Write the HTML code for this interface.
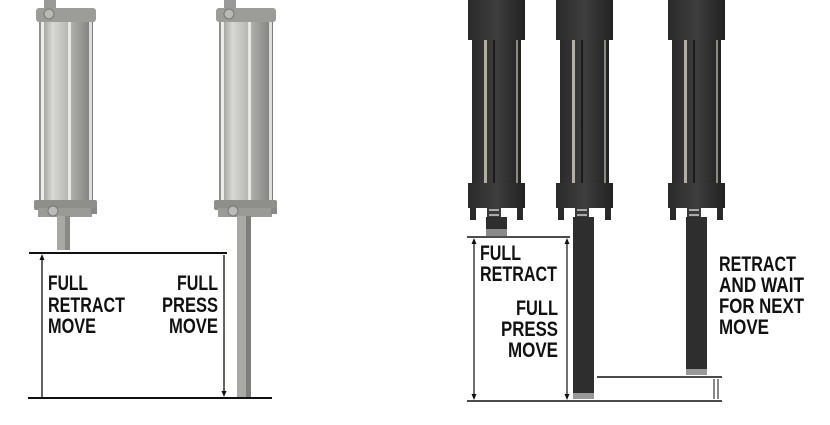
<!DOCTYPE html>
<html><head><meta charset="utf-8"><style>
html,body{margin:0;padding:0;background:#fff;width:830px;height:425px;overflow:hidden}
text{font-family:"Liberation Sans",sans-serif;font-weight:bold;font-size:21px;fill:#111}
</style></head><body>
<svg width="830" height="425" viewBox="0 0 830 425" xmlns="http://www.w3.org/2000/svg">
<defs>
<linearGradient id="sv" x1="0" x2="1" y1="0" y2="0">
<stop offset="0" stop-color="#8a8a86"/><stop offset="0.25" stop-color="#d8d8d4"/><stop offset="0.55" stop-color="#b4b4b0"/><stop offset="1" stop-color="#7c7c78"/>
</linearGradient>
<linearGradient id="dk" x1="0" x2="1" y1="0" y2="0">
<stop offset="0" stop-color="#2a2a2a"/><stop offset="0.5" stop-color="#3e3e3e"/><stop offset="1" stop-color="#222"/>
</linearGradient>
<g id="silver">
<rect x="44" y="0" width="12" height="14" fill="#9a9a96"/>
<rect x="36" y="8" width="60" height="14" rx="3" fill="#9c9c98"/>
<circle cx="49" cy="14" r="5" fill="#b8b8b4" stroke="#777"/>
<rect x="39" y="22" width="54" height="180" fill="url(#sv)"/>
<rect x="41" y="22" width="3" height="180" fill="#ececea"/>
<rect x="68" y="22" width="3" height="180" fill="#e8e8e4"/>
<rect x="89" y="22" width="3" height="180" fill="#ddd"/>
<rect x="34" y="200" width="63" height="10" rx="2" fill="#8e8e8a"/>
<rect x="38" y="208" width="54" height="9" fill="#9a9a96"/>
<circle cx="53" cy="211" r="5" fill="#bbb" stroke="#777"/>
<rect x="91" y="208" width="6" height="6" fill="#888"/>
</g>
<g id="dark">
<rect x="0" y="0" width="57" height="40" fill="url(#dk)"/>
<rect x="4" y="40" width="49" height="143" fill="url(#dk)"/>
<rect x="16" y="40" width="3" height="143" fill="#b5b09c"/>
<rect x="48" y="40" width="2" height="143" fill="#8d8a7c"/>
<rect x="25" y="40" width="2" height="143" fill="#1a1a1a"/>
<rect x="0" y="183" width="57" height="25" fill="url(#dk)"/>
<rect x="2" y="208" width="6" height="12" fill="#2a2a2a"/>
<rect x="49" y="208" width="6" height="12" fill="#2a2a2a"/>
<rect x="19" y="208" width="14" height="9" fill="#3a3a3a"/>
<rect x="21" y="209" width="10" height="2" fill="#aaa"/>
<rect x="21" y="214" width="10" height="2" fill="#aaa"/>
</g>
</defs>

<use href="#silver"/>
<rect x="57" y="216" width="8" height="34" fill="#a8a8a4"/>
<rect x="65" y="216" width="5" height="34" fill="#888884"/>
<use href="#silver" x="180"/>
<rect x="237" y="216" width="9" height="182" fill="#a8a8a4"/>
<rect x="246" y="216" width="5" height="182" fill="#7e7e7a"/>

<g stroke="#111" fill="none">
<line x1="29" y1="253" x2="227" y2="253" stroke-width="2"/>
<line x1="28" y1="398" x2="272" y2="398" stroke-width="2"/>
<line x1="42" y1="257" x2="42" y2="397" stroke-width="1.3"/>
<line x1="224" y1="255" x2="224" y2="394" stroke-width="1.3"/>
</g>
<path d="M42 254 l-2.5 6 h5z M224 397 l-2.5 -6 h5z" fill="#111"/>
<g lengthAdjust="spacingAndGlyphs">
<text x="48" y="290" textLength="40" lengthAdjust="spacingAndGlyphs">FULL</text>
<text x="48" y="312" textLength="77" lengthAdjust="spacingAndGlyphs">RETRACT</text>
<text x="48" y="333" textLength="48" lengthAdjust="spacingAndGlyphs">MOVE</text>
<text x="177" y="290" textLength="41" lengthAdjust="spacingAndGlyphs">FULL</text>
<text x="162" y="312" textLength="56" lengthAdjust="spacingAndGlyphs">PRESS</text>
<text x="169" y="333" textLength="49" lengthAdjust="spacingAndGlyphs">MOVE</text>
</g>

<use href="#dark" x="468"/>
<rect x="486" y="217" width="21" height="19" fill="#2e2e2e"/>
<rect x="486" y="229" width="21" height="7" fill="#8a8a8a"/>
<use href="#dark" x="556"/>
<rect x="573" y="217" width="21" height="181" fill="#2e2e2e"/>
<rect x="573" y="393" width="21" height="6" fill="#999"/>
<use href="#dark" x="668"/>
<rect x="686" y="217" width="21" height="157" fill="#2e2e2e"/>
<rect x="686" y="369" width="21" height="6" fill="#999"/>

<g stroke="#111" fill="none">
<line x1="467" y1="237" x2="570" y2="237" stroke-width="1.5"/>
<line x1="467" y1="401" x2="722" y2="401" stroke-width="1.5"/>
<line x1="597" y1="377" x2="722" y2="377" stroke-width="1.5"/>
<line x1="474" y1="240" x2="474" y2="398" stroke-width="1.2"/>
<line x1="567" y1="240" x2="567" y2="398" stroke-width="1.2"/>
<line x1="714" y1="379" x2="714" y2="399" stroke-width="1"/>
<line x1="718" y1="379" x2="718" y2="399" stroke-width="1"/>
</g>
<path d="M474 238 l-2.5 6 h5z M474 400 l-2.5 -6 h5z M567 238 l-2.5 6 h5z M567 400 l-2.5 -6 h5z" fill="#111"/>
<text x="480" y="260" textLength="41" lengthAdjust="spacingAndGlyphs">FULL</text>
<text x="480" y="281" textLength="77" lengthAdjust="spacingAndGlyphs">RETRACT</text>
<text x="516" y="315" textLength="42" lengthAdjust="spacingAndGlyphs">FULL</text>
<text x="501" y="336" textLength="57" lengthAdjust="spacingAndGlyphs">PRESS</text>
<text x="508" y="357" textLength="50" lengthAdjust="spacingAndGlyphs">MOVE</text>
<text x="719" y="271" textLength="77" lengthAdjust="spacingAndGlyphs">RETRACT</text>
<text x="719" y="292" textLength="85" lengthAdjust="spacingAndGlyphs">AND WAIT</text>
<text x="719" y="313" textLength="85" lengthAdjust="spacingAndGlyphs">FOR NEXT</text>
<text x="719" y="334" textLength="50" lengthAdjust="spacingAndGlyphs">MOVE</text>
</svg>
</body></html>
